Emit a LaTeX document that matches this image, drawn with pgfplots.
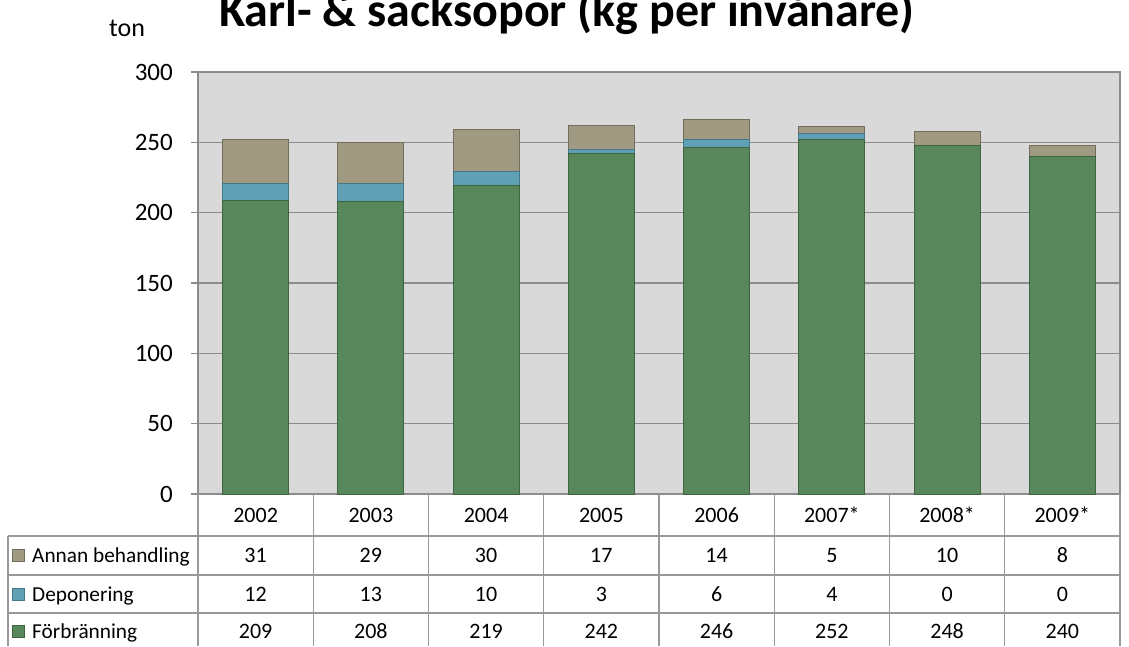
\documentclass[border=0pt]{standalone}
\usepackage{pgfplots}
\pgfplotsset{compat=1.18}
\usepackage{fontspec}
\setmainfont{Carlito}
\definecolor{plotbg}{HTML}{D9D9D9}
\definecolor{gridc}{HTML}{8C8C8C}
\definecolor{tabc}{HTML}{999999}
\definecolor{gr}{HTML}{57875B}
\definecolor{grd}{HTML}{3F6442}
\definecolor{bl}{HTML}{5FA0B4}
\definecolor{bld}{HTML}{46788A}
\definecolor{tn}{HTML}{A09A82}
\definecolor{tnd}{HTML}{736E5C}

\begin{document}
\begin{tikzpicture}
\path[use as bounding box] (0,0) rectangle (1129pt,-646pt);
\node[font=\fontsize{48}{48}\selectfont\bfseries, anchor=base] at (567pt,-26pt) {Karl- \& sacksopor (kg per invånare)};
\node[font=\fontsize{26}{26}\selectfont, anchor=base] at (127pt,-36pt) {ton};
\begin{axis}[
    at={(198pt,-494pt)}, anchor=south west,
    scale only axis, width=922pt, height=422pt,
    xmin=-0.5, xmax=7.5, ymin=0, ymax=300,
    ytick={0,50,...,300}, xtick=\empty, ytick pos=left,
    ybar stacked, bar width=66pt,
    axis background/.style={fill=plotbg},
    ymajorgrids, grid style={gridc, line width=1.2pt},
    axis line style={gridc, line width=1.2pt},
    tick align=outside, major tick length=7pt,
    tick style={gridc, line width=1.2pt},
    yticklabel style={font=\fontsize{25}{25}\selectfont, inner sep=0pt, xshift=-18pt},
    /pgf/number format/assume math mode=true,
    clip=false,
]
% Förbränning
\addplot[fill=gr, draw=grd, line width=1pt] coordinates {(0,209) (1,208) (2,219) (3,242) (4,246) (5,252) (6,248) (7,240)};
% Deponering
\addplot[fill=bl, draw=bld, line width=1pt] coordinates {(0,12) (1,13) (2,10) (3,3) (4,6) (5,4) (6,0) (7,0)};
% Annan behandling
\addplot[fill=tn, draw=tnd, line width=1pt] coordinates {(0,31) (1,29) (2,30) (3,17) (4,14) (5,5) (6,10) (7,8)};
\end{axis}
% data table
\begin{scope}[tabc, line width=1.2pt]
\foreach \yy in {536,575,613} \draw (8pt,-\yy pt) -- (1120pt,-\yy pt);
\foreach \k in {0,...,8} \draw ({198pt+\k*115.25pt},-494pt) -- ({198pt+\k*115.25pt},-646pt);
\draw (8pt,-536pt) -- (8pt,-646pt);
\end{scope}
\begin{scope}[font=\fontsize{22}{22}\selectfont, every node/.style={anchor=base}]
\foreach \t [count=\k from 0] in {2002,2003,2004,2005,2006,2007*,2008*,2009*}
  \node at ({255.6pt+\k*115.25pt},-522pt) {\t};
\foreach \t [count=\k from 0] in {31,29,30,17,14,5,10,8}
  \node at ({255.6pt+\k*115.25pt},-562.5pt) {\t};
\foreach \t [count=\k from 0] in {12,13,10,3,6,4,0,0}
  \node at ({255.6pt+\k*115.25pt},-601pt) {\t};
\foreach \t [count=\k from 0] in {209,208,219,242,246,252,248,240}
  \node at ({255.6pt+\k*115.25pt},-638pt) {\t};
\fill[tn, draw=tnd] (12pt,-549pt) rectangle (24pt,-561pt);
\fill[bl, draw=bld] (12pt,-588pt) rectangle (24pt,-600pt);
\fill[gr, draw=grd] (12pt,-625pt) rectangle (24pt,-637pt);
\begin{scope}[font=\fontsize{21.3}{21.3}\selectfont]
\node[anchor=base west, inner sep=0pt] at (32pt,-562.5pt) {Annan behandling};
\node[anchor=base west, inner sep=0pt] at (32pt,-601pt) {Deponering};
\node[anchor=base west, inner sep=0pt] at (32pt,-638pt) {Förbränning};
\end{scope}
\end{scope}
\end{tikzpicture}
\end{document}
